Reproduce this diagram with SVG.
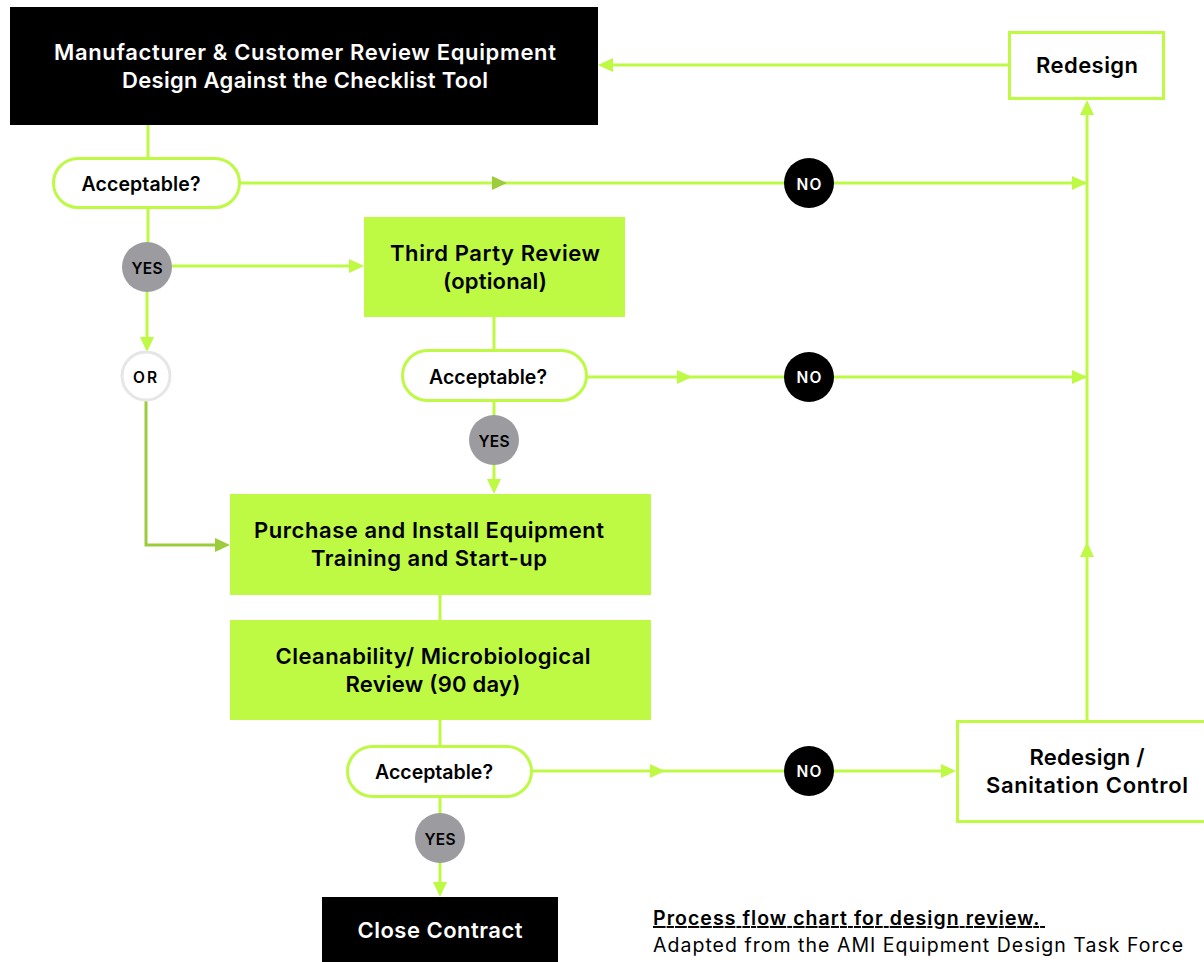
<svg xmlns="http://www.w3.org/2000/svg" width="1204" height="962" viewBox="0 0 1204 962">
<style>
.t{font-family:Inter,"Noto Sans",sans-serif;font-weight:600;text-anchor:middle;dominant-baseline:central}
.m{font-size:22px}
.a{font-size:19.5px}
.s{font-size:15.5px}
.w{fill:#fff}
.b{fill:#000}
.l{stroke:#bef944;stroke-width:3;fill:none}
.d{stroke:#9ccb3c;stroke-width:3;fill:none}
.pill{fill:#fff;stroke:#bef944;stroke-width:3}
.box{fill:#fff;stroke:#bef944;stroke-width:3}
.gbox{fill:#bef944}
.yes{fill:#9b9ba0}
.no{fill:#000}
.or{fill:#fff;stroke:#e6e6e6;stroke-width:3}
.ah{fill:#bef944}
.ahd{fill:#9ccb3c}
</style>
<rect width="1204" height="962" fill="#fff"/>
<g id="connectors">
  <line class="l" x1="148" y1="124" x2="148" y2="158"/>
  <line class="l" x1="240" y1="183" x2="1086" y2="183"/>
  <polygon class="ahd" points="507,183 492,176 492,190"/>
  <polygon class="ah" points="1087,183 1072,176 1072,190"/>
  <line class="l" x1="1087" y1="720" x2="1087" y2="112"/>
  <polygon class="ah" points="1087,100 1080,115 1094,115"/>
  <polygon class="ah" points="1087,542 1080,557 1094,557"/>
  <line class="l" x1="1008" y1="65" x2="612" y2="65"/>
  <polygon class="ah" points="598,65 613,58 613,72"/>
  <line class="l" x1="148" y1="208" x2="148" y2="242"/>
  <line class="l" x1="172" y1="266" x2="352" y2="266"/>
  <polygon class="ah" points="364,266 349,259 349,273"/>
  <line class="l" x1="147" y1="292" x2="147" y2="340"/>
  <polygon class="ah" points="147,352 140,337 154,337"/>
  <polyline class="d" points="146,401 146,545 218,545"/>
  <polygon class="ahd" points="230,545 215,538 215,552"/>
  <line class="l" x1="494" y1="317" x2="494" y2="350"/>
  <line class="l" x1="587" y1="377" x2="1086" y2="377"/>
  <polygon class="ah" points="692,377 677,370 677,384"/>
  <polygon class="ah" points="1087,377 1072,370 1072,384"/>
  <line class="l" x1="494" y1="401" x2="494" y2="484"/>
  <polygon class="ah" points="494,494 487,479 501,479"/>
  <line class="l" x1="440" y1="595" x2="440" y2="620"/>
  <line class="l" x1="440" y1="720" x2="440" y2="745"/>
  <line class="l" x1="532" y1="771" x2="945" y2="771"/>
  <polygon class="ah" points="665,771 650,764 650,778"/>
  <polygon class="ah" points="956,771 941,764 941,778"/>
  <line class="l" x1="440" y1="797" x2="440" y2="886"/>
  <polygon class="ah" points="440,897 433,882 447,882"/>
</g>
<g id="review">
  <rect x="10" y="7" width="588" height="118" class="b"/>
  <text class="t m w" x="305" y="52" textLength="502">Manufacturer &amp; Customer Review Equipment</text>
  <text class="t m w" x="305" y="80" textLength="366">Design Against the Checklist Tool</text>
</g>
<g id="redesign">
  <rect x="1009.5" y="32.5" width="154" height="66" class="box"/>
  <text class="t m b" x="1087" y="65" textLength="102">Redesign</text>
</g>
<g id="acc1">
  <rect x="53.5" y="158.5" width="186" height="49" rx="24.5" class="pill"/>
  <text class="t a b" x="141" y="184" textLength="119">Acceptable?</text>
</g>
<g id="no1">
  <circle cx="809" cy="183" r="25" class="no"/>
  <text class="t s w" x="809" y="184" textLength="25">NO</text>
</g>
<g id="yes1">
  <circle cx="147" cy="267" r="25" class="yes"/>
  <text class="t s b" x="147" y="268" textLength="31">YES</text>
</g>
<g id="or">
  <circle cx="146" cy="376" r="24" class="or"/>
  <text class="t s b" x="145" y="377" textLength="24">OR</text>
</g>
<g id="thirdparty">
  <rect x="364" y="217" width="261" height="100" class="gbox"/>
  <text class="t m b" x="495" y="253" textLength="210">Third Party Review</text>
  <text class="t m b" x="495" y="281" textLength="104">(optional)</text>
</g>
<g id="acc2">
  <rect x="402.5" y="350.5" width="184" height="50" rx="25" class="pill"/>
  <text class="t a b" x="488" y="377" textLength="118">Acceptable?</text>
</g>
<g id="no2">
  <circle cx="809" cy="377" r="25" class="no"/>
  <text class="t s w" x="809" y="377" textLength="25">NO</text>
</g>
<g id="yes2">
  <circle cx="494" cy="440" r="25" class="yes"/>
  <text class="t s b" x="494" y="441" textLength="31">YES</text>
</g>
<g id="purchase">
  <rect x="230" y="494" width="421" height="101" class="gbox"/>
  <text class="t m b" x="429" y="530" textLength="350">Purchase and Install Equipment</text>
  <text class="t m b" x="429" y="558" textLength="236">Training and Start-up</text>
</g>
<g id="cleanability">
  <rect x="230" y="620" width="421" height="100" class="gbox"/>
  <text class="t m b" x="433" y="656" textLength="315">Cleanability/ Microbiological</text>
  <text class="t m b" x="433" y="684" textLength="175">Review (90 day)</text>
</g>
<g id="acc3">
  <rect x="347.5" y="746.5" width="184" height="50" rx="25" class="pill"/>
  <text class="t a b" x="434" y="772" textLength="118">Acceptable?</text>
</g>
<g id="no3">
  <circle cx="809" cy="771" r="25" class="no"/>
  <text class="t s w" x="809" y="771" textLength="25">NO</text>
</g>
<g id="sanitation">
  <rect x="957.5" y="721.5" width="250" height="100" class="box"/>
  <text class="t m b" x="1087" y="757" textLength="115">Redesign /</text>
  <text class="t m b" x="1087" y="785" textLength="202">Sanitation Control</text>
</g>
<g id="yes3">
  <circle cx="440" cy="838" r="25" class="yes"/>
  <text class="t s b" x="440" y="839" textLength="31">YES</text>
</g>
<g id="close">
  <rect x="322" y="897" width="236" height="65" class="b"/>
  <text class="t m w" x="440" y="930" textLength="165">Close Contract</text>
</g>
<g id="caption" font-family="Inter,'Noto Sans',sans-serif" font-size="19.5">
  <text x="653" y="925" font-weight="600" text-decoration="underline" xml:space="preserve" textLength="392">Process flow chart for design review. </text>
  <text x="653" y="952" textLength="530">Adapted from the AMI Equipment Design Task Force</text>
</g>
</svg>
